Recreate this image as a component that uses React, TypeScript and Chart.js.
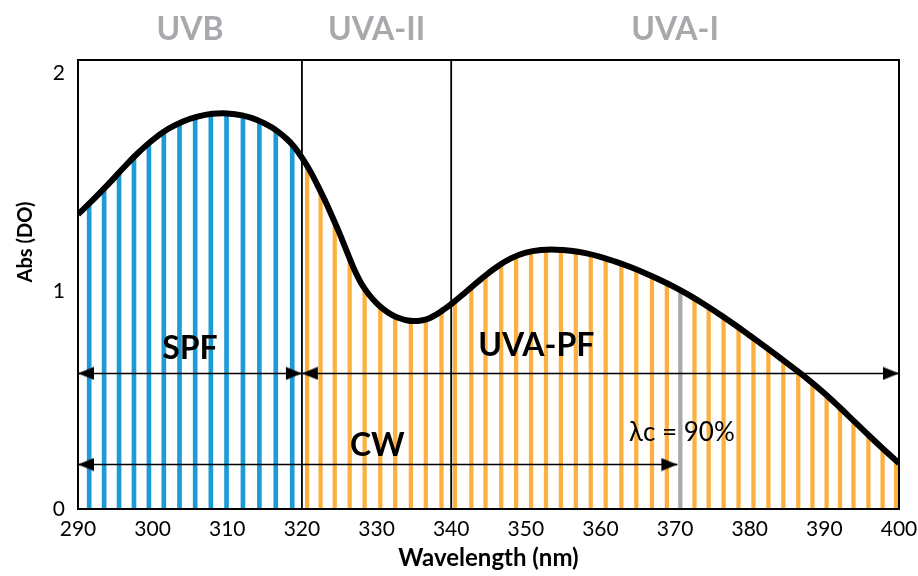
import React, { useEffect, useRef } from 'react';
import { Chart, registerables } from 'chart.js';

Chart.register(...registerables);

// Axis ranges
const X_MIN = 290;
const X_MAX = 400;
const X_STEP = 10;
const Y_MAX = 2.06;
const yTickValues = [0, 1, 2];

// Absorbance spectrum (wavelength in nm, absorbance)
const curveWl = [
  290, 292, 294, 296, 298, 300, 302, 304, 306, 308, 310, 312, 314, 316, 318, 319,
  320, 321, 322, 323, 324, 325, 326, 327, 328, 329, 330, 331, 332, 333, 334, 335,
  336, 337, 338, 339, 340, 342, 344, 346, 348, 350, 352, 354, 356, 358, 360, 362,
  364, 366, 368, 370, 372, 374, 376, 378, 380, 382, 384, 386, 388, 390, 392, 394,
  396, 398, 400,
];
const curveAbs = [
  1.352, 1.418, 1.488, 1.562, 1.632, 1.693, 1.742, 1.777, 1.8, 1.813, 1.815, 1.806, 1.785, 1.75, 1.697, 1.66,
  1.612, 1.557, 1.492, 1.422, 1.347, 1.268, 1.183, 1.1, 1.032, 0.983, 0.945, 0.915, 0.892, 0.876, 0.866, 0.862,
  0.865, 0.874, 0.892, 0.915, 0.94, 0.997, 1.055, 1.108, 1.15, 1.176, 1.188, 1.19, 1.185, 1.174, 1.157, 1.135,
  1.11, 1.082, 1.051, 1.017, 0.979, 0.937, 0.892, 0.845, 0.796, 0.746, 0.695, 0.643, 0.589, 0.531, 0.468, 0.402,
  0.336, 0.272, 0.21,
];

// UVB sampling bars (SPF region)
const spfBarWl = [291.5, 293.5, 295.5, 297.5, 299.5, 301.5, 303.6, 305.7, 307.8, 309.9, 312.1, 314.3, 316.5, 318.7];
const spfBarAbs = [1.401, 1.47, 1.543, 1.615, 1.678, 1.73, 1.77, 1.797, 1.812, 1.815, 1.805, 1.78, 1.74, 1.672];

// UVA sampling bars
const uvaBarWl = [
  320.7, 322.5, 324.4, 326.4, 328.4, 330.5, 332.5, 334.6, 336.6, 338.7, 340.5, 342.7, 344.6, 346.7,
  348.7, 350.7, 352.7, 354.7, 356.7, 358.7, 360.7, 362.8, 364.8, 366.9, 368.9, 372.6, 374.5, 376.5,
  378.5, 380.5, 382.5, 384.5, 386.5, 388.4, 390.3, 392.1, 393.9, 395.9, 397.8, 399.6,
];
const uvaBarAbs = [
  1.573, 1.457, 1.316, 1.15, 1.01, 0.929, 0.884, 0.863, 0.87, 0.908, 0.954, 1.017, 1.072, 1.127,
  1.16, 1.181, 1.189, 1.189, 1.182, 1.168, 1.15, 1.126, 1.1, 1.068, 1.034, 0.966, 0.926, 0.88,
  0.833, 0.784, 0.733, 0.682, 0.63, 0.578, 0.52, 0.465, 0.405, 0.338, 0.278, 0.222,
];

// Critical wavelength bar
const criticalWl = [370.7];
const criticalAbs = [1.004];

// Band boundaries and names
const bandEdges = [320, 340];
const bandNames = ['UVB', 'UVA-II', 'UVA-I'];
const bandCenters = [305, 330, 370];

// Range arrows
const rangeLevel = 0.622;
const cwLevel = 0.204;
const spfRange = [290, 320];
const uvaRange = [320, 400];
const cwRange = [290, 370.3];

// In-plot labels
const labelTexts = ['SPF', 'UVA-PF', 'CW', 'λc = 90%'];
const labelX = [305, 351.4, 330.1, 370.9];
const labelY = [0.689, 0.704, 0.245, 0.311];
const labelBold = [true, true, true, false];

const BLUE = '#1C9BD7';
const ORANGE = '#FBB040';
const GREY = '#A7A9AC';
const FONT = 'Lato, "Open Sans", sans-serif';

function makeArrowHead(): HTMLCanvasElement {
  const len = 17;
  const h = 14;
  const c = document.createElement('canvas');
  c.width = len * 2;
  c.height = h;
  const g = c.getContext('2d')!;
  g.fillStyle = '#000';
  g.beginPath();
  g.moveTo(1, 0.5);
  g.lineTo(len, h / 2);
  g.lineTo(1, h - 0.5);
  g.closePath();
  g.fill();
  return c;
}

const pts = (xs: number[], ys: number[]) => xs.map((x, i) => ({ x, y: ys[i] }));

export default function App() {
  const ref = useRef<HTMLCanvasElement | null>(null);

  useEffect(() => {
    document.body.style.margin = '0';
    const canvas = ref.current;
    if (!canvas) return;
    const head = makeArrowHead();

    const arrow = (range: number[], level: number) => ({
      type: 'line' as const,
      data: [
        { x: range[0], y: level },
        { x: range[1], y: level },
      ],
      borderColor: '#000',
      borderWidth: 1.6,
      pointRadius: 1,
      pointStyle: [head, head] as any,
      pointRotation: [180, 0],
      order: 1,
    });

    const decorations = {
      id: 'decorations',
      afterDatasetsDraw(chart: Chart) {
        const { ctx, chartArea } = chart;
        const xs = chart.scales.x;
        const ys = chart.scales.y;
        ctx.save();
        // plot frame
        ctx.strokeStyle = '#000';
        ctx.lineWidth = 2;
        ctx.strokeRect(chartArea.left, chartArea.top, chartArea.right - chartArea.left, chartArea.bottom - chartArea.top);

        // band names above the plot
        ctx.fillStyle = GREY;
        ctx.font = `bold 32px ${FONT}`;
        ctx.textAlign = 'center';
        ctx.textBaseline = 'alphabetic';
        bandNames.forEach((n, i) => {
          ctx.fillText(n, xs.getPixelForValue(bandCenters[i]), chartArea.top - 20);
        });

        // in-plot labels
        ctx.fillStyle = '#000';
        labelTexts.forEach((t, i) => {
          ctx.font = labelBold[i] ? `bold 32px ${FONT}` : `26px ${FONT}`;
          ctx.fillText(t, xs.getPixelForValue(labelX[i]), ys.getPixelForValue(labelY[i]));
        });

        // axis titles
        ctx.font = `bold 24px ${FONT}`;
        ctx.fillText('Wavelength (nm)', (chartArea.left + chartArea.right) / 2, 566);
        ctx.translate(31.5, 242);
        ctx.rotate(-Math.PI / 2);
        ctx.font = `bold 20px ${FONT}`;
        ctx.fillText('Abs (DO)', 0, 0);
        ctx.restore();
      },
    };

    const chart = new Chart(canvas, {
      type: 'bar',
      data: {
        datasets: [
          {
            type: 'line',
            data: pts(curveWl, curveAbs),
            borderColor: '#000',
            borderWidth: 6,
            pointRadius: 0,
            tension: 0.4,
            order: 0,
          },
          arrow(spfRange, rangeLevel),
          arrow(uvaRange, rangeLevel),
          arrow(cwRange, cwLevel),
          ...bandEdges.map((e) => ({
            type: 'line' as const,
            data: [
              { x: e, y: 0 },
              { x: e, y: Y_MAX },
            ],
            borderColor: '#000',
            borderWidth: 1.8,
            pointRadius: 0,
            order: 2,
          })),
          {
            type: 'bar',
            data: pts(spfBarWl, spfBarAbs),
            backgroundColor: BLUE,
            barThickness: 4,
            grouped: false,
            order: 3,
          },
          {
            type: 'bar',
            data: pts(uvaBarWl, uvaBarAbs),
            backgroundColor: ORANGE,
            barThickness: 3.6,
            grouped: false,
            order: 3,
          },
          {
            type: 'bar',
            data: pts(criticalWl, criticalAbs),
            backgroundColor: GREY,
            barThickness: 3.6,
            grouped: false,
            order: 3,
          },
        ] as any,
      },
      options: {
        animation: false,
        responsive: false,
        events: [],
        layout: { padding: { left: 0, right: 0, top: 60, bottom: 0 } },
        plugins: { legend: { display: false }, tooltip: { enabled: false } },
        scales: {
          x: {
            type: 'linear',
            min: X_MIN,
            max: X_MAX,
            offset: false,
            grid: { display: false, drawTicks: false },
            border: { display: false },
            ticks: {
              stepSize: X_STEP,
              padding: 8,
              color: '#000',
              font: { family: FONT, size: 21 },
              maxRotation: 0,
            },
            afterFit: (s: any) => {
              s.height = 67;
              s.paddingLeft = 0;
              s.paddingRight = 19;
            },
          },
          y: {
            type: 'linear',
            min: 0,
            max: Y_MAX,
            grid: { display: false, drawTicks: false },
            border: { display: false },
            ticks: {
              padding: 13,
              color: '#000',
              font: { family: FONT, size: 21 },
            },
            afterBuildTicks: (s: any) => {
              s.ticks = yTickValues.map((v) => ({ value: v }));
            },
            afterFit: (s: any) => {
              s.width = 78;
              s.paddingTop = 0;
              s.paddingBottom = 0;
            },
          },
        },
      },
      plugins: [decorations],
    });

    return () => chart.destroy();
  }, []);

  return (
    <div style={{ position: 'fixed', left: 0, top: 0, width: 918, height: 576, background: '#fff' }}>
      <canvas ref={ref} width={918} height={576} />
    </div>
  );
}
